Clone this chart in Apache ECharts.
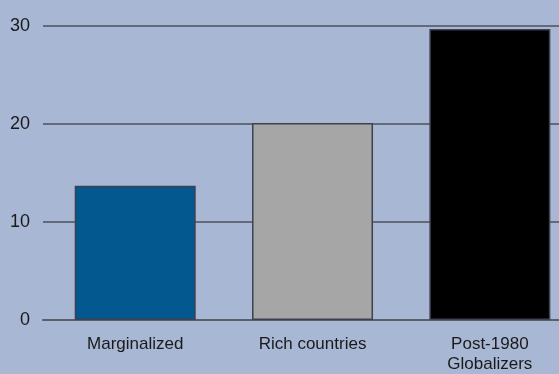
<!DOCTYPE html>
<html>
<head>
<meta charset="utf-8">
<script src="https://cdn.jsdelivr.net/npm/echarts@6/dist/echarts.min.js"></script>
<style>
html,body{margin:0;padding:0;background:#a8b7d4;}
#chart{width:559px;height:374px;}
</style>
</head>
<body>
<div id="chart"></div>
<script>
const categories = ['Marginalized', 'Rich countries', 'Post-1980\nGlobalizers'];
const categoryIndex = [0, 1, 2];
const values = [13.7, 20.1, 29.7];
const barColors = ['#02588f', '#a6a6a6', '#000000'];
const yTicks = [0, 10, 20, 30];
const heading = 'Percentage points, average growth';

const chart = echarts.init(document.getElementById('chart'));
chart.setOption({
  backgroundColor: '#a8b7d4',
  animation: false,
  graphic: [{
    type: 'text',
    left: 8,
    top: -15,
    style: {
      text: heading,
      font: 'italic 15px "Liberation Sans", Arial, sans-serif',
      fill: '#222'
    }
  }],
  grid: { left: 43, right: 0, top: 26, bottom: 50, containLabel: false },
  xAxis: {
    // category positions on a numeric scale so the last band can run past the edge
    type: 'value',
    min: -0.52,
    max: 2.39,
    axisLine: { show: true, lineStyle: { color: '#5a5f6b', width: 2 } },
    axisTick: { show: false },
    splitLine: { show: false },
    axisLabel: {
      customValues: categoryIndex,
      formatter: v => categories[Math.round(v)] || '',
      color: '#1a1a1a',
      fontSize: 17,
      fontFamily: '"Liberation Sans", Arial, sans-serif',
      margin: 14,
      lineHeight: 20
    }
  },
  yAxis: {
    type: 'value',
    min: 0,
    max: 30,
    interval: 10,
    axisLine: { show: false },
    axisTick: { show: false },
    axisLabel: {
      color: '#1a1a1a',
      fontSize: 18,
      fontFamily: '"Liberation Sans", Arial, sans-serif',
      margin: 13,
      formatter: v => yTicks.includes(v) ? String(v) : ''
    },
    splitLine: { show: true, lineStyle: { color: '#4d525e', width: 1.5 } }
  },
  series: [{
    type: 'bar',
    barWidth: 121,
    data: values.map((v, i) => ({
      value: [categoryIndex[i], v],
      itemStyle: { color: barColors[i], borderColor: '#3d4250', borderWidth: 1.5 }
    }))
  }]
});
</script>
</body>
</html>
